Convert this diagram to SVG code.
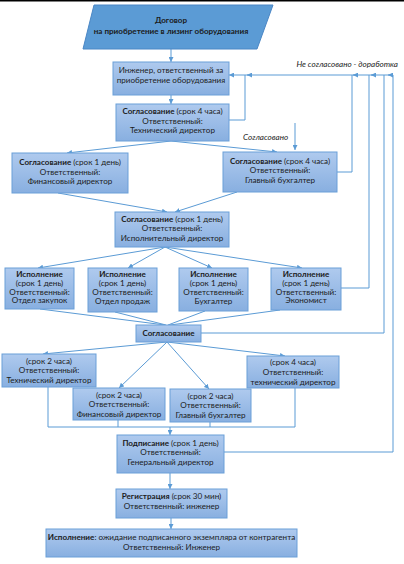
<svg xmlns="http://www.w3.org/2000/svg" width="404" height="564" viewBox="0 0 404 564">
<defs>
<linearGradient id="g" x1="0" y1="0" x2="0" y2="1">
<stop offset="0" stop-color="#afcaee"/>
<stop offset="1" stop-color="#88afe0"/>
</linearGradient>
<marker id="ar" viewBox="0 0 10 10" refX="10" refY="5" markerWidth="5" markerHeight="5" orient="auto" markerUnits="userSpaceOnUse">
<path d="M0,0 L10,5 L0,10 z" fill="#5b9bd5"/>
</marker>
</defs>
<style>
.b{fill:url(#g);stroke:#6a9fd8;stroke-width:1}
.t{font-family:Lato,"Noto Sans",sans-serif;font-size:8.1px;fill:#1c1c1c;text-anchor:middle}
.bd{font-weight:bold}
.i{font-family:Lato,"Noto Sans",sans-serif;font-size:8.1px;fill:#1c1c1c;font-style:italic}
.c{fill:none;stroke:#5b9bd5;stroke-width:1}
.a{marker-end:url(#ar)}
</style>
<rect x="0" y="0" width="404" height="1.5" fill="#000"/>
<g id="connectors">
<line class="c a" x1="171" y1="49" x2="171" y2="62"/>
<line class="c a" x1="171" y1="95" x2="171" y2="104"/>
<line class="c a" x1="171" y1="141" x2="67" y2="153"/>
<line class="c a" x1="171" y1="141" x2="277" y2="152"/>
<line class="c a" x1="58" y1="193" x2="167" y2="212"/>
<line class="c a" x1="237" y1="192" x2="175" y2="212"/>
<line class="c a" x1="165" y1="247" x2="38" y2="268"/>
<line class="c a" x1="165" y1="247" x2="128" y2="268"/>
<line class="c a" x1="165" y1="247" x2="212" y2="268"/>
<line class="c a" x1="165" y1="247" x2="302" y2="268"/>
<line class="c" x1="40" y1="309" x2="165" y2="325"/>
<line class="c" x1="115" y1="312" x2="166" y2="325"/>
<line class="c" x1="205" y1="311" x2="168" y2="325"/>
<line class="c" x1="280" y1="310" x2="170" y2="325"/>
<line class="c a" x1="167" y1="342" x2="43" y2="354"/>
<line class="c a" x1="167" y1="342" x2="119" y2="388"/>
<line class="c a" x1="167" y1="342" x2="209" y2="389"/>
<line class="c a" x1="167" y1="342" x2="285" y2="356"/>
<polyline class="c" points="48,387 48,427 295,427 295,388"/>
<line class="c" x1="118" y1="420" x2="118" y2="427"/>
<line class="c" x1="210" y1="422" x2="210" y2="427"/>
<line class="c a" x1="170" y1="427" x2="170" y2="435"/>
<line class="c a" x1="170" y1="473" x2="170" y2="489"/>
<line class="c a" x1="171" y1="518" x2="171" y2="529"/>
<line class="c a" x1="295" y1="123" x2="295" y2="150"/>
<polyline class="c" points="229,120 245,120 245,75"/>
<polyline class="c" points="337,172 352,172 352,75"/>
<polyline class="c" points="341,288 369,288 369,75"/>
<polyline class="c" points="201,333 384,333 384,75"/>
<polyline class="c" points="224,452 393,452 393,75"/>
<line class="c a" x1="393" y1="75" x2="229" y2="75"/>
<line class="c a" x1="252" y1="75" x2="247" y2="75"/>
<line class="c a" x1="358" y1="75" x2="353" y2="75"/>
<line class="c a" x1="376" y1="75" x2="371" y2="75"/>
<line class="c a" x1="393" y1="75" x2="388" y2="75"/>
<text class="i" x="398" y="67" text-anchor="end">Не согласовано - доработка</text>
<text class="i" x="243" y="140">Согласовано</text>
</g>
<g id="n0">
<polygon points="94,5 273,5 257,49 83,49" fill="#5b9bd5" stroke="#4a86c5"/>
<text class="t bd" x="171" y="23">Договор</text>
<text class="t bd" x="171" y="34">на приобретение в лизинг оборудования</text>
</g>
<g id="n1">
<rect class="b" x="113" y="62" width="116" height="33"/>
<text class="t" x="171" y="73">Инженер, ответственный за</text>
<text class="t" x="171" y="83">приобретение оборудования</text>
</g>
<g id="n2">
<rect class="b" x="116" y="104" width="113" height="37"/>
<text class="t" x="172.5" y="114"><tspan class="bd">Согласование</tspan> (срок 4 часа)</text>
<text class="t" x="172.5" y="123.5">Ответственный:</text>
<text class="t" x="172.5" y="133">Технический директор</text>
</g>
<g id="n3">
<rect class="b" x="12" y="153" width="116" height="40"/>
<text class="t" x="70" y="165"><tspan class="bd">Согласование</tspan> (срок 1 день)</text>
<text class="t" x="70" y="174.5">Ответственный:</text>
<text class="t" x="70" y="184">Финансовый директор</text>
</g>
<g id="n4">
<rect class="b" x="223" y="152" width="114" height="40"/>
<text class="t" x="280" y="164"><tspan class="bd">Согласование</tspan> (срок 4 часа)</text>
<text class="t" x="280" y="173">Ответственный:</text>
<text class="t" x="280" y="183">Главный бухгалтер</text>
</g>
<g id="n5">
<rect class="b" x="115" y="212" width="114" height="35"/>
<text class="t" x="172" y="222"><tspan class="bd">Согласование</tspan> (срок 1 день)</text>
<text class="t" x="172" y="231">Ответственный:</text>
<text class="t" x="172" y="241">Исполнительный директор</text>
</g>
<g id="n6">
<rect class="b" x="5" y="268" width="69" height="41"/>
<text class="t bd" x="39.5" y="277">Исполнение</text>
<text class="t" x="39.5" y="286">(срок 1 день)</text>
<text class="t" x="39.5" y="294.5">Ответственный:</text>
<text class="t" x="39.5" y="303">Отдел закупок</text>
</g>
<g id="n7">
<rect class="b" x="88" y="268" width="69" height="44"/>
<text class="t bd" x="122.5" y="277">Исполнение</text>
<text class="t" x="122.5" y="286">(срок 1 день)</text>
<text class="t" x="122.5" y="294.5">Ответственный:</text>
<text class="t" x="122.5" y="304">Отдел продаж</text>
</g>
<g id="n8">
<rect class="b" x="179" y="268" width="69" height="43"/>
<text class="t bd" x="213.5" y="277">Исполнение</text>
<text class="t" x="213.5" y="286">(срок 1 день)</text>
<text class="t" x="213.5" y="294.5">Ответственный:</text>
<text class="t" x="213.5" y="304">Бухгалтер</text>
</g>
<g id="n9">
<rect class="b" x="271" y="268" width="70" height="42"/>
<text class="t bd" x="306" y="277">Исполнение</text>
<text class="t" x="306" y="286">(срок 1 день)</text>
<text class="t" x="306" y="294.5">Ответственный:</text>
<text class="t" x="306" y="303">Экономист</text>
</g>
<g id="n10">
<rect class="b" x="136" y="325" width="65" height="17"/>
<text class="t bd" x="168.5" y="336">Согласование</text>
</g>
<g id="n11">
<rect class="b" x="2" y="354" width="94" height="33"/>
<text class="t" x="49" y="364">(срок 2 часа)</text>
<text class="t" x="49" y="373">Ответственный:</text>
<text class="t" x="49" y="383">Технический директор</text>
</g>
<g id="n12">
<rect class="b" x="73" y="388" width="92" height="32"/>
<text class="t" x="119" y="398">(срок 2 часа)</text>
<text class="t" x="119" y="407">Ответственный:</text>
<text class="t" x="119" y="417">Финансовый директор</text>
</g>
<g id="n13">
<rect class="b" x="170" y="389" width="81" height="33"/>
<text class="t" x="210.5" y="399">(срок 2 часа)</text>
<text class="t" x="210.5" y="408">Ответственный:</text>
<text class="t" x="210.5" y="418">Главный бухгалтер</text>
</g>
<g id="n14">
<rect class="b" x="247" y="356" width="92" height="32"/>
<text class="t" x="293" y="365">(срок 4 часа)</text>
<text class="t" x="293" y="375">Ответственный:</text>
<text class="t" x="293" y="385">технический директор</text>
</g>
<g id="n15">
<rect class="b" x="117" y="435" width="107" height="38"/>
<text class="t" x="170.5" y="446"><tspan class="bd">Подписание</tspan> (срок 1 день)</text>
<text class="t" x="170.5" y="455">Ответственный:</text>
<text class="t" x="170.5" y="465">Генеральный директор</text>
</g>
<g id="n16">
<rect class="b" x="116" y="489" width="111" height="29"/>
<text class="t" x="171.5" y="499"><tspan class="bd">Регистрация</tspan> (срок 30 мин)</text>
<text class="t" x="171.5" y="509">Ответственный: инженер</text>
</g>
<g id="n17">
<rect class="b" x="46" y="529" width="251" height="28"/>
<text class="t" x="171.5" y="540"><tspan class="bd">Исполнение</tspan>: ожидание подписанного экземпляра от контрагента</text>
<text class="t" x="171.5" y="550">Ответственный: Инженер</text>
</g>
</svg>
